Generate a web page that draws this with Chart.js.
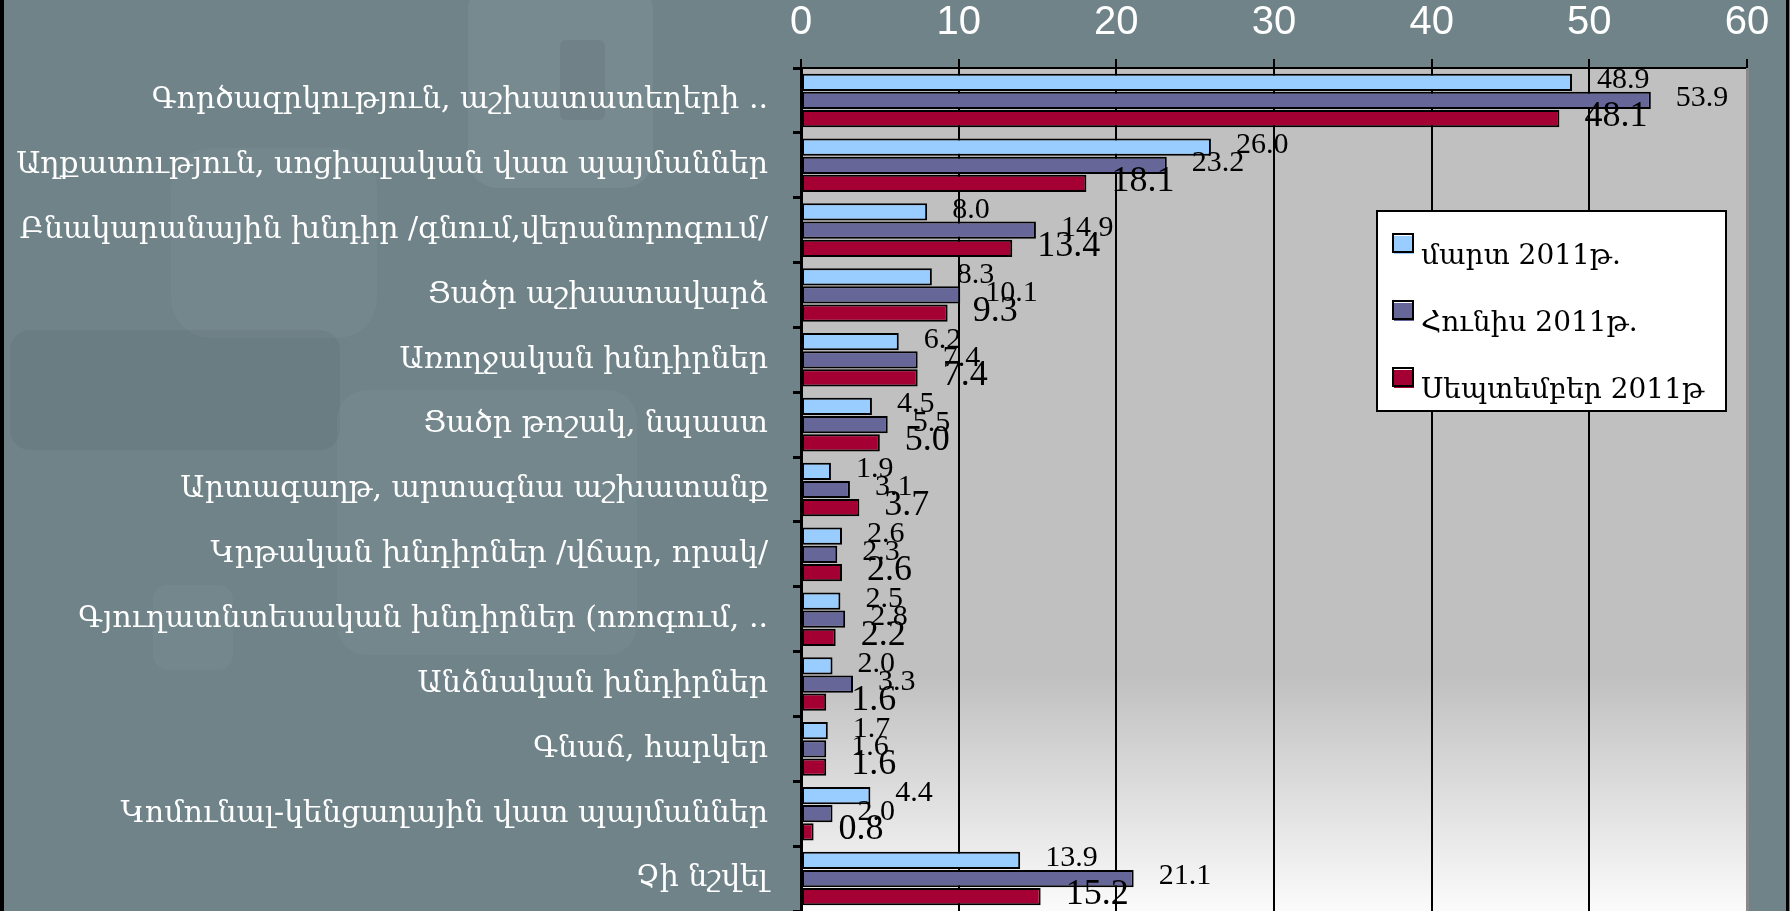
<!DOCTYPE html>
<html>
<head>
<meta charset="utf-8">
<script src="https://cdn.jsdelivr.net/npm/chart.js@4.4.1/dist/chart.umd.min.js"></script>
<style>
  html, body { margin: 0; padding: 0; background: #6f8389; }
  #wrap { width: 1790px; height: 911px; }
</style>
</head>
<body>
<div id="wrap"><canvas id="chart" width="1790" height="911"></canvas></div>
<script>
// categories, top to bottom
const categories = [
  "Գործազրկություն, աշխատատեղերի ..",
  "Աղքատություն, սոցիալական վատ պայմաններ",
  "Բնակարանային խնդիր /գնում,վերանորոգում/",
  "Ցածր աշխատավարձ",
  "Առողջական խնդիրներ",
  "Ցածր թոշակ, նպաստ",
  "Արտագաղթ, արտագնա աշխատանք",
  "Կրթական խնդիրներ /վճար, որակ/",
  "Գյուղատնտեսական խնդիրներ (ոռոգում, ..",
  "Անձնական խնդիրներ",
  "Գնաճ, հարկեր",
  "Կոմունալ-կենցաղային վատ պայմաններ",
  "Չի նշվել"
];

const seriesNames = ["մարտ 2011թ.", "Հունիս 2011թ.", "Սեպտեմբեր 2011թ"];
const marchValues = [48.9, 26.0, 8.0, 8.3, 6.2, 4.5, 1.9, 2.6, 2.5, 2.0, 1.7, 4.4, 13.9];
const juneValues  = [53.9, 23.2, 14.9, 10.1, 7.4, 5.5, 3.1, 2.3, 2.8, 3.3, 1.6, 2.0, 21.1];
const septValues  = [48.1, 18.1, 13.4, 9.3, 7.4, 5.0, 3.7, 2.6, 2.2, 1.6, 1.6, 0.8, 15.2];

const xMin = 0;
const xMax = 60;
const xStep = 10;

const colors = ["#99ccff", "#666699", "#a50034"];

// slide background + plot area fill
const slideBackground = {
  id: "slideBackground",
  beforeDraw(chart) {
    const c = chart.ctx;
    const area = chart.chartArea;
    c.save();
    c.fillStyle = "#6f8389";
    c.fillRect(0, 0, chart.width, chart.height);

    // faint decorative shapes of the slide
    function rr(x, y, w, h, r, col) {
      c.fillStyle = col;
      c.beginPath();
      c.roundRect(x, y, w, h, r);
      c.fill();
    }
    rr(468, -20, 185, 208, 30, "rgba(255,255,255,0.06)");
    rr(560, 40, 45, 80, 6, "rgba(0,0,0,0.05)");
    rr(171, 148, 206, 190, 40, "rgba(255,255,255,0.04)");
    rr(10, 330, 330, 120, 20, "rgba(0,0,0,0.04)");
    rr(337, 390, 300, 265, 30, "rgba(255,255,255,0.04)");
    rr(153, 585, 80, 85, 15, "rgba(255,255,255,0.04)");

    // plot area gradient
    const g = c.createLinearGradient(0, area.top, 0, area.bottom);
    g.addColorStop(0, "#c0c0c0");
    g.addColorStop(0.72, "#c0c0c0");
    g.addColorStop(1, "#fbfbfb");
    c.fillStyle = g;
    c.fillRect(area.left, area.top, area.right - area.left, area.bottom - area.top);
    c.restore();
  }
};

// value labels next to bar ends
const valueLabels = {
  id: "valueLabels",
  afterDatasetsDraw(chart) {
    const c = chart.ctx;
    c.save();
    c.fillStyle = "#000";
    c.textAlign = "left";
    c.textBaseline = "middle";
    chart.data.datasets.forEach((ds, i) => {
      const meta = chart.getDatasetMeta(i);
      c.font = (i === 2 ? "36px" : "30px") + " 'Liberation Serif', 'Times New Roman', serif";
      meta.data.forEach((bar, j) => {
        c.fillText(ds.data[j].toFixed(1), bar.x + 25, bar.y - 2);
      });
    });
    c.restore();
  }
};

// legend box inside the plot, plus the slide frame
const legendBox = {
  id: "legendBox",
  afterDraw(chart) {
    const c = chart.ctx;
    const area = chart.chartArea;
    c.save();

    // shadow strip on the right of the plot area and slide borders
    c.fillStyle = "#8a8a8a";
    c.fillRect(area.right - 1, area.top, 3, area.bottom - area.top);
    c.fillStyle = "#000";
    c.fillRect(0, 0, 4, chart.height);
    c.fillRect(1786, 0, 3, chart.height);

    const bx = 1377, by = 211, bw = 349, bh = 200;
    c.fillStyle = "#fff";
    c.fillRect(bx, by, bw, bh);
    c.strokeStyle = "#000";
    c.lineWidth = 2;
    c.strokeRect(bx, by, bw, bh);

    c.font = "28px 'DejaVu Serif', serif";
    c.textAlign = "left";
    c.textBaseline = "alphabetic";
    chart.data.datasets.forEach((ds, i) => {
      const y = by + 23 + i * 67;
      c.fillStyle = ds.backgroundColor;
      c.fillRect(bx + 17, y + 2, 20, 18);
      c.strokeStyle = "#000";
      c.lineWidth = 2;
      c.strokeRect(bx + 16, y, 20, 18);
      c.fillStyle = "#000";
      c.fillText(ds.label, bx + 44, y + 30);
    });
    c.restore();
  }
};

const ctx = document.getElementById("chart").getContext("2d");
const chart = new Chart(ctx, {
  type: "bar",
  data: {
    labels: categories,
    datasets: [
      { label: seriesNames[0], data: marchValues, backgroundColor: colors[0] },
      { label: seriesNames[1], data: juneValues, backgroundColor: colors[1] },
      { label: seriesNames[2], data: septValues, backgroundColor: colors[2] }
    ]
  },
  options: {
    indexAxis: "y",
    responsive: false,
    animation: false,
    layout: { padding: { left: 0, right: 43, top: 0, bottom: 0 } },
    datasets: {
      bar: {
        borderColor: "#000",
        borderWidth: 2,
        borderSkipped: false,
        categoryPercentage: 0.84,
        barPercentage: 0.95
      }
    },
    scales: {
      x: {
        position: "top",
        min: xMin,
        max: xMax,
        ticks: {
          stepSize: xStep,
          color: "#fff",
          padding: 12,
          font: { family: "'Liberation Sans', Arial, sans-serif", size: 40 }
        },
        grid: {
          color: (c) => (c.tick && c.tick.value === xMax ? "#8a8a8a" : "#000"),
          lineWidth: 2,
          tickLength: 9,
          tickColor: "#000",
          tickWidth: 2
        },
        border: { display: true, color: "#000", width: 2 },
        afterFit: (s) => {
          s.height = 68;
          s.paddingLeft = 0;
          s.paddingRight = 0;
        }
      },
      y: {
        ticks: {
          color: "#fff",
          padding: 25,
          font: { family: "'DejaVu Serif', 'DejaVu Sans', serif", size: 30 }
        },
        grid: {
          drawOnChartArea: false,
          tickLength: 8,
          tickColor: "#000",
          tickWidth: 3
        },
        border: { display: true, color: "#000", width: 3 },
        afterFit: (s) => {
          s.width = 801;
          s.paddingTop = 0;
          s.paddingBottom = 0;
        }
      }
    },
    plugins: {
      legend: { display: false },
      tooltip: { enabled: false }
    }
  },
  plugins: [slideBackground, valueLabels, legendBox]
});
</script>
</body>
</html>
